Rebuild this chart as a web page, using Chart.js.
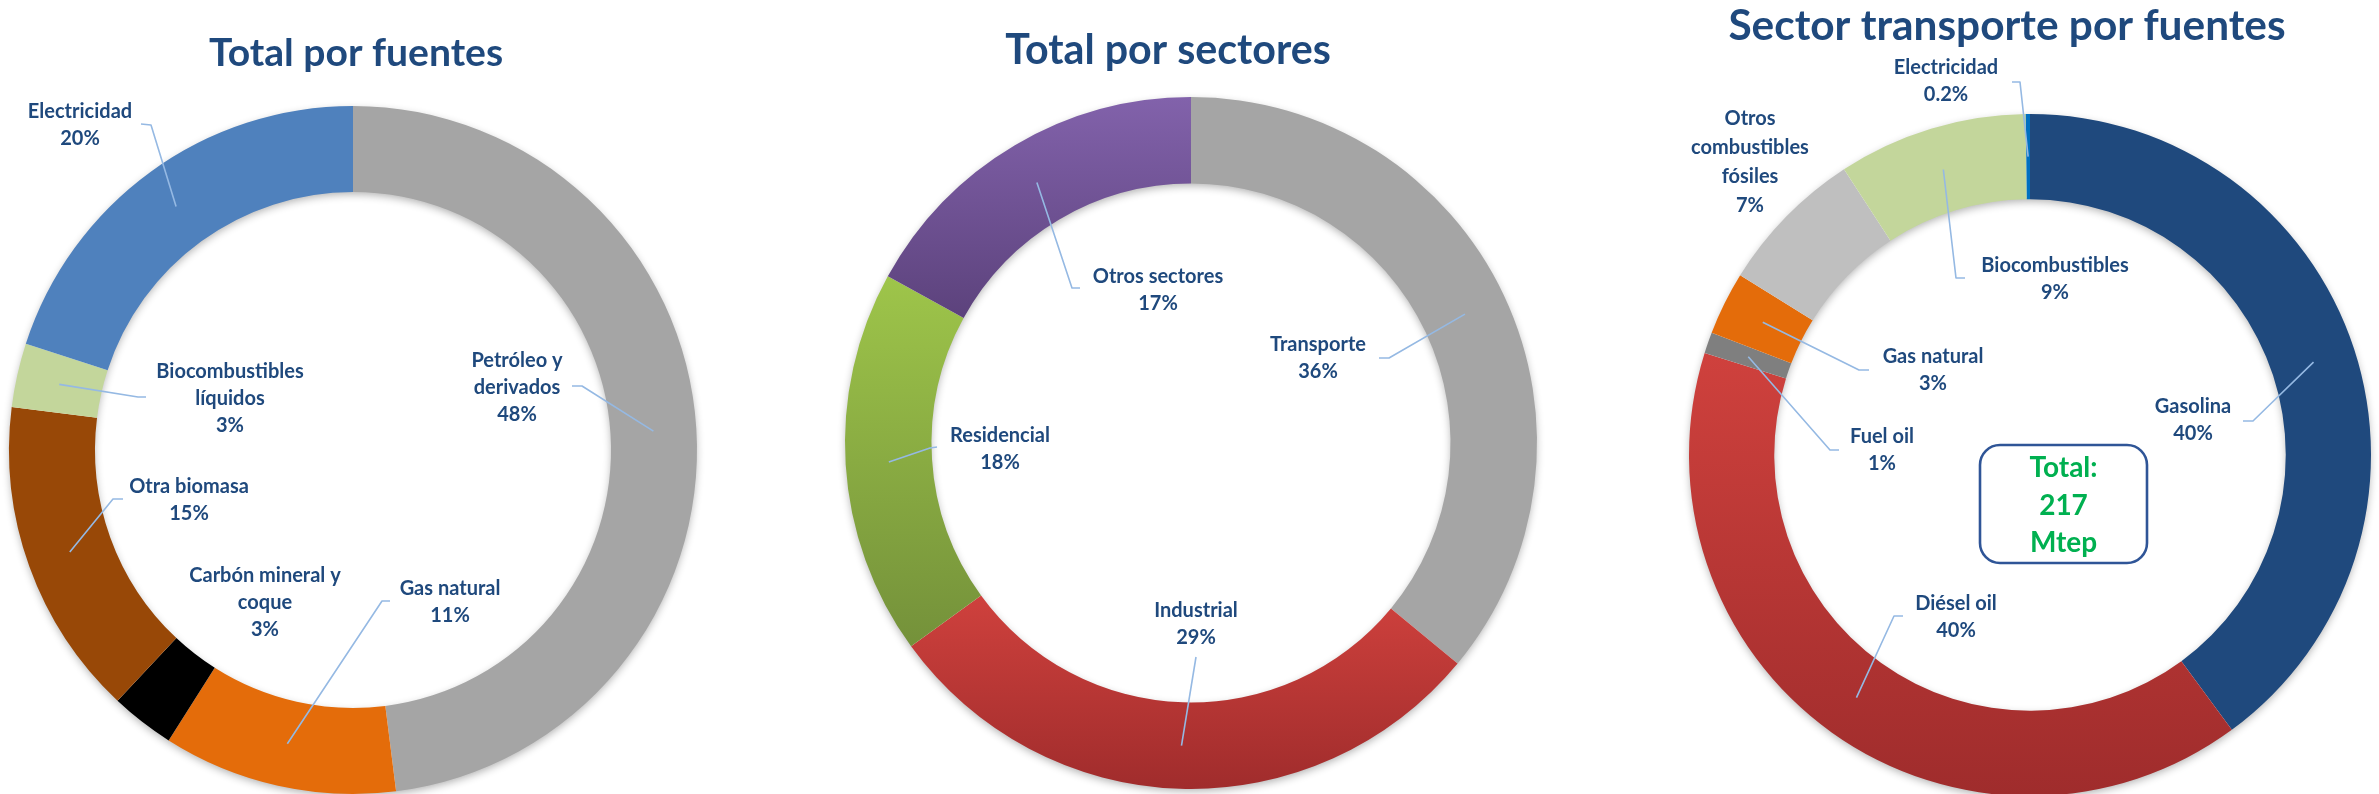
<!DOCTYPE html>
<html>
<head>
<meta charset="utf-8">
<script src="https://cdn.jsdelivr.net/npm/chart.js@4.4.1/dist/chart.umd.min.js"></script>
<style>
  html, body { margin: 0; padding: 0; background: #fff; width: 2379px; height: 794px; overflow: hidden; }
  canvas { position: absolute; left: 0; top: 0; }
</style>
</head>
<body>
<canvas id="fuentes" width="2379" height="860"></canvas>
<canvas id="sectores" width="2379" height="860"></canvas>
<canvas id="transporte" width="2379" height="860"></canvas>
<script>
// ---- Consumo final de energía: participación (%) ----
const fuentesLabels = ['Petróleo y derivados', 'Gas natural', 'Carbón mineral y coque', 'Otra biomasa', 'Biocombustibles líquidos', 'Electricidad'];
const fuentesValues = [48, 11, 3, 15, 3, 20];

const sectoresLabels = ['Transporte', 'Industrial', 'Residencial', 'Otros sectores'];
const sectoresValues = [36, 29, 18, 17];

const transporteLabels = ['Gasolina', 'Diésel oil', 'Fuel oil', 'Gas natural', 'Otros combustibles fósiles', 'Biocombustibles', 'Electricidad'];
const transporteValues = [40, 40, 1, 3, 7, 9, 0.2];
const transporteTotal = 217;   // Mtep
const transporteUnit = 'Mtep';

// ---- Styles ----
const FONT = 'Lato, "Open Sans", sans-serif';
const NAVY = '#1f497d';
const LEADER = '#95b9e3';

// vertical gradient spanning the bounding box of one ring segment
function segmentGradient(top, bottom) {
  return (c) => {
    const chart = c.chart;
    const i = c.dataIndex;
    const ctrl = chart.getDatasetMeta(0).controller;
    const area = chart.chartArea;
    if (i === undefined || !area || !ctrl || !(ctrl.outerRadius > 0)) return top;
    const cy = (area.top + area.bottom) / 2;
    const vals = c.dataset.data;
    const total = vals.reduce((a, b) => a + b, 0);
    let before = 0;
    for (let k = 0; k < i; k++) before += vals[k];
    const a0 = -Math.PI / 2 + before / total * 2 * Math.PI;
    const a1 = a0 + vals[i] / total * 2 * Math.PI;
    let y0 = Infinity, y1 = -Infinity;
    for (let s = 0; s <= 64; s++) {
      const a = a0 + (a1 - a0) * s / 64;
      for (const rad of [ctrl.outerRadius, ctrl.innerRadius]) {
        const y = cy + rad * Math.sin(a);
        y0 = Math.min(y0, y); y1 = Math.max(y1, y);
      }
    }
    const g = chart.ctx.createLinearGradient(0, y0, 0, y1);
    g.addColorStop(0, top);
    g.addColorStop(1, bottom);
    return g;
  };
}

// per-segment colour; entries may be plain colours or gradient builders
function colourBy(list) {
  return (c) => {
    const v = list[(c.dataIndex || 0) % list.length];
    return typeof v === 'function' ? v(c) : v;
  };
}

const fuentesColors = ['#a5a5a5', '#e46c0a', '#000000', '#984807', '#c3d69b', '#4f81bd'];
const sectoresColors = ['#a5a5a5', segmentGradient('#cf413d', '#a02c2c'), segmentGradient('#9ec54a', '#74913a'), segmentGradient('#8262ab', '#5c427c')];
const transporteColors = ['#1f497d', segmentGradient('#cf413d', '#9f2c2c'), '#7f7f7f', '#e46c0a', '#bfbfbf', '#c3d69b', '#0070c0'];

// ---- Layout of each ring, its title and its data labels ----
const layouts = {
  fuentes: {
    cx: 353, cy: 450, radius: 344,
    title: { text: 'Total por fuentes', x: 356, y: 66, width: 294 },
    labels: [
      { x: 517, y: 367, wrap: 150, leader: [572, 386, 582, 386] },
      { x: 450, y: 595, leader: [390, 601, 382, 601] },
      { x: 265, y: 582, wrap: 170 },
      { x: 189, y: 493, leader: [123, 499, 113, 499] },
      { x: 230, y: 378, wrap: 170, leader: [146, 397, 138, 397] },
      { x: 80, y: 118, leader: [141, 124, 151, 125] }
    ]
  },
  sectores: {
    cx: 1191, cy: 443, radius: 346,
    title: { text: 'Total por sectores', x: 1168, y: 64, width: 326 },
    labels: [
      { x: 1318, y: 351, leader: [1379, 358, 1389, 358] },
      { x: 1196, y: 617, leader: [1196, 657, 1196, 657] },
      { x: 1000, y: 442, leader: [937, 447, 930, 448] },
      { x: 1158, y: 283, leader: [1080, 288, 1072, 288] }
    ]
  },
  transporte: {
    cx: 2030, cy: 455, radius: 341,
    title: { text: 'Sector transporte por fuentes', x: 2007, y: 40, width: 557 },
    labels: [
      { x: 2193, y: 413, leader: [2243, 421, 2253, 421] },
      { x: 1956, y: 610, leader: [1903, 616, 1894, 616] },
      { x: 1882, y: 443, leader: [1839, 450, 1830, 450] },
      { x: 1933, y: 363, leader: [1869, 370, 1859, 370] },
      { x: 1750, y: 125, wrap: 140, lineHeight: 29 },
      { x: 2055, y: 272, leader: [1965, 278, 1956, 278] },
      { x: 1946, y: 74, leader: [2012, 82, 2020, 82] }
    ],
    box: { x: 1980, y: 445, w: 167, h: 118, r: 20, lines: [468, 506, 543] }
  }
};

function wrapText(ctx, text, maxWidth) {
  const words = text.split(' ');
  const lines = [];
  let cur = '';
  for (const w of words) {
    const test = cur ? cur + ' ' + w : w;
    if (cur && ctx.measureText(test).width > maxWidth) { lines.push(cur); cur = w; }
    else cur = test;
  }
  if (cur) lines.push(cur);
  return lines;
}

// soft shadow under the whole ring, drawn once so segment joins stay clean
const ringShadow = {
  id: 'ringShadow',
  beforeDatasetsDraw(chart) {
    const arc = chart.getDatasetMeta(0).data[0];
    if (!arc) return;
    const { x, y, innerRadius, outerRadius } = arc.getProps(['x', 'y', 'innerRadius', 'outerRadius'], true);
    const ctx = chart.ctx;
    ctx.save();
    ctx.shadowColor = 'rgba(0,0,0,0.32)';
    ctx.shadowBlur = 9;
    ctx.shadowOffsetY = 3;
    ctx.beginPath();
    ctx.arc(x, y, outerRadius - 1, 0, Math.PI * 2);
    ctx.arc(x, y, innerRadius + 1, 0, Math.PI * 2, true);
    ctx.fillStyle = '#ffffff';
    ctx.fill('evenodd');
    ctx.restore();
  }
};

// title, callout labels with leader lines and the optional total box
const annotations = {
  id: 'annotations',
  afterDatasetsDraw(chart, args, opts) {
    const lay = opts.layout;
    const ctx = chart.ctx;
    const meta = chart.getDatasetMeta(0);
    const names = chart.data.labels;
    const vals = chart.data.datasets[0].data;
    ctx.save();

    // leader lines from each segment centre to its label
    ctx.strokeStyle = LEADER;
    ctx.lineWidth = 1.6;
    ctx.lineJoin = 'round';
    lay.labels.forEach((lb, i) => {
      if (!lb.leader) return;
      const p = meta.data[i].getCenterPoint();
      const [ax, ay, ex, ey] = lb.leader;
      ctx.beginPath();
      ctx.moveTo(ax, ay);
      ctx.lineTo(ex, ey);
      ctx.lineTo(p.x, p.y);
      ctx.stroke();
    });

    // labels: category name (wrapped) + percentage
    ctx.fillStyle = NAVY;
    ctx.textAlign = 'center';
    ctx.textBaseline = 'alphabetic';
    ctx.font = 'bold 20px ' + FONT;
    lay.labels.forEach((lb, i) => {
      const lines = wrapText(ctx, names[i], lb.wrap || 180);
      lines.push(vals[i] + '%');
      const lh = lb.lineHeight || 27;
      lines.forEach((t, k) => ctx.fillText(t, lb.x, lb.y + k * lh));
    });

    // title, sized to its measured span
    const t = lay.title;
    ctx.font = 'bold 40px ' + FONT;
    const size = 40 * t.width / ctx.measureText(t.text).width;
    ctx.font = 'bold ' + size.toFixed(1) + 'px ' + FONT;
    ctx.fillStyle = NAVY;
    ctx.fillText(t.text, t.x, t.y);

    // total box
    if (lay.box) {
      const b = lay.box;
      ctx.beginPath();
      ctx.roundRect(b.x, b.y, b.w, b.h, b.r);
      ctx.lineWidth = 2.6;
      ctx.strokeStyle = '#2f5597';
      ctx.stroke();
      ctx.fillStyle = '#00b050';
      ctx.font = 'bold 28px ' + FONT;
      const txt = ['Total:', String(transporteTotal), transporteUnit];
      txt.forEach((s, k) => ctx.fillText(s, b.x + b.w / 2, b.lines[k] + 9));
    }
    ctx.restore();
  }
};

function makeRing(id, labels, values, colors) {
  const lay = layouts[id];
  const canvas = document.getElementById(id);
  const W = canvas.width, H = canvas.height, R = lay.radius;
  return new Chart(canvas, {
    type: 'doughnut',
    data: {
      labels: labels,
      datasets: [{ data: values, backgroundColor: colourBy(colors), borderWidth: 0, hoverOffset: 0 }]
    },
    options: {
      responsive: false,
      animation: false,
      events: [],
      radius: R,
      cutout: '75%',
      layout: {
        padding: { left: lay.cx - R, right: W - lay.cx - R, top: lay.cy - R, bottom: H - lay.cy - R }
      },
      plugins: {
        legend: { display: false },
        tooltip: { enabled: false },
        annotations: { layout: lay }
      }
    },
    plugins: [ringShadow, annotations]
  });
}

Chart.defaults.font.family = FONT;
makeRing('fuentes', fuentesLabels, fuentesValues, fuentesColors);
makeRing('sectores', sectoresLabels, sectoresValues, sectoresColors);
makeRing('transporte', transporteLabels, transporteValues, transporteColors);
</script>
</body>
</html>
